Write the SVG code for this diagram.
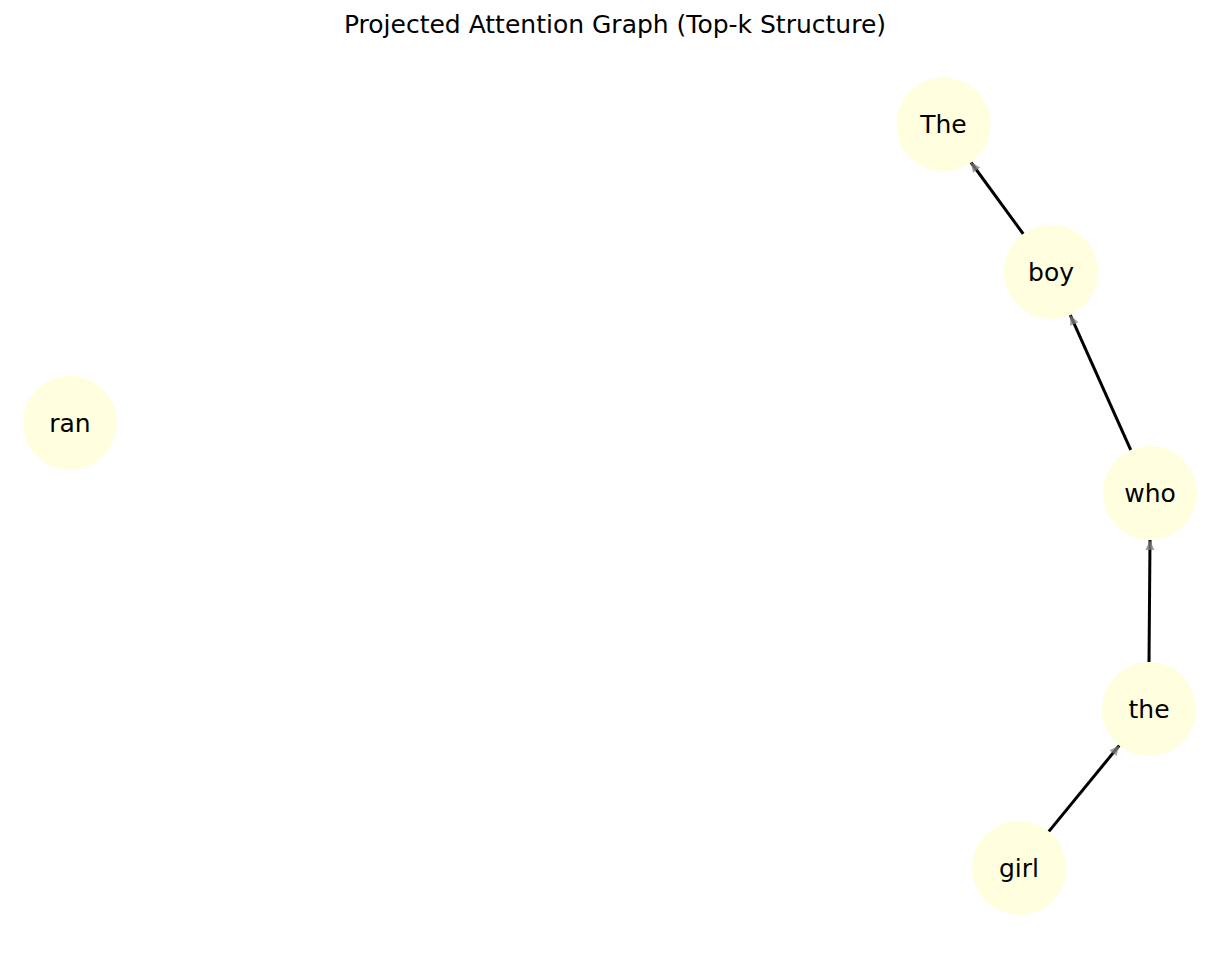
<svg xmlns="http://www.w3.org/2000/svg" width="1230" height="961" viewBox="0 0 1230 961">
<style>
.node circle{fill:#ffffe0;}
.node text{font-family:"DejaVu Sans",sans-serif;font-size:25px;fill:#000;text-anchor:middle;dominant-baseline:central;}
.edge{stroke:#000;stroke-width:3;fill:none;marker-end:url(#ah);}
.title{font-family:"DejaVu Sans",sans-serif;font-size:25px;fill:#000;text-anchor:middle;}
</style>
<defs>
<marker id="ah" markerUnits="userSpaceOnUse" markerWidth="14" markerHeight="14" viewBox="0 0 14 14" refX="12" refY="7" orient="auto">
<path d="M2,2.5 L12,7 L2,11.5 Z" fill="#808080" fill-opacity="0.75"/>
</marker>
</defs>
<rect width="1230" height="961" fill="#fff"/>
<text class="title" x="615" y="33">Projected Attention Graph (Top-k Structure)</text>
<g id="edges">
<line class="edge" x1="1023.3" y1="234" x2="970.7" y2="162"/>
<line class="edge" x1="1130.8" y1="450.1" x2="1070.2" y2="314.9"/>
<line class="edge" x1="1149" y1="662" x2="1150" y2="540"/>
<line class="edge" x1="1048.7" y1="831.6" x2="1119.3" y2="745.4"/>
</g>
<g id="node-The" class="node"><circle cx="943.5" cy="124.5" r="47"/><text x="943.5" y="124.5">The</text></g>
<g id="node-boy" class="node"><circle cx="1051" cy="272" r="47"/><text x="1051" y="272">boy</text></g>
<g id="node-who" class="node"><circle cx="1150" cy="493" r="47"/><text x="1150" y="493">who</text></g>
<g id="node-the" class="node"><circle cx="1149" cy="709" r="47"/><text x="1149" y="709">the</text></g>
<g id="node-girl" class="node"><circle cx="1019" cy="868" r="47"/><text x="1019" y="868">girl</text></g>
<g id="node-ran" class="node"><circle cx="70" cy="423" r="47"/><text x="70" y="423">ran</text></g>
</svg>
